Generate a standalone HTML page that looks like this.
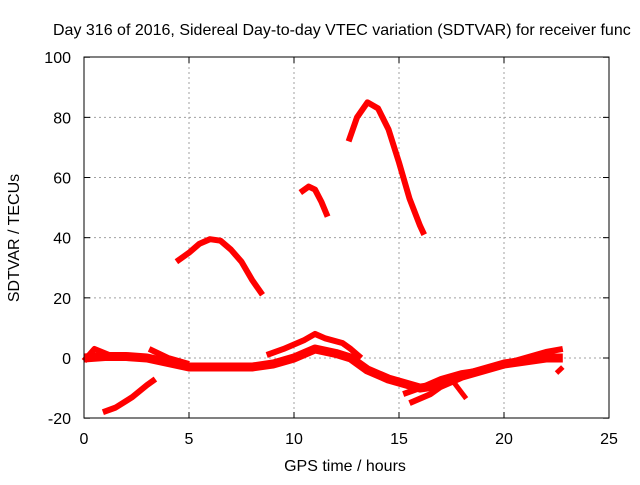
<!DOCTYPE html>
<html><head><meta charset="utf-8"><style>
body{margin:0;background:#fff}
svg text{font-family:"Liberation Sans",sans-serif;font-size:16px;fill:#000}
</style></head><body>
<svg width="640" height="480">
<text x="53" y="35">Day 316 of 2016, Sidereal Day-to-day VTEC variation (SDTVAR) for receiver func</text>
<g id="grid"></g><g id="ticks"></g><g id="series"></g>
<rect x="84" y="57" width="525" height="361" fill="none" stroke="#000" stroke-width="1"/>
<text x="345" y="471" text-anchor="middle">GPS time / hours</text>
<text transform="translate(19,238) rotate(-90)" text-anchor="middle">SDTVAR / TECUs</text>
</svg>
<script>
const xTicks=[0,5,10,15,20,25];
const yTicks=[-20,0,20,40,60,80,100];
const arc1H=[4.4,5,5.5,6,6.5,7,7.5,8,8.5];
const arc1V=[32,35,38,39.5,39,36,32,26,21];
const arc2H=[10.3,10.7,11,11.3,11.6];
const arc2V=[55,57,56,52,47];
const arc3H=[12.6,13,13.5,14,14.5,15,15.5,16,16.2];
const arc3V=[72,80,85,83,76,65,53,44,41];
const lowH=[0.9,1.5,2.3,3,3.4];
const lowV=[-18,-16.5,-13,-9,-7];
const mainH=[0,1,2,3,4,5,6,7,8,9,10,11,12,12.7,13.5,14.5,15,16,17,18,19,20,21,22,22.8];
const mainV=[0,0.5,0.5,0,-1.5,-3,-3,-3,-3,-2,0,3,1.5,0,-4,-7,-8,-10,-9,-6,-4,-2,-1,0,0];
const upperH=[8.7,9.5,10.5,11,11.5,12.3,12.7,13.2];
const upperV=[1,3,6,8,6.5,5,3,0];
const b2H=[3.1,4,5];
const b2V=[3,0,-2];
const b3H=[15.2,16,17,18,19];
const b3V=[-12,-10,-7,-5,-4];
const b4H=[15.5,16.5,17.5];
const b4V=[-15,-12,-7];
const b5H=[17.6,18.2];
const b5V=[-8,-13.5];
const b6H=[20,21,22,22.8];
const b6V=[-2,0,2,3];
const b7H=[0,0.5,1.2];
const b7V=[-1,3,1];
const b8H=[22.5,22.8];
const b8V=[-5,-3];
const X=h=>84+21*h, Y=v=>358-3.008*v;
const NS='http://www.w3.org/2000/svg';
const g=document.getElementById('grid'), t=document.getElementById('ticks'), s=document.getElementById('series');
function mk(tag,p,attrs){const e=document.createElementNS(NS,tag);for(const k in attrs)e.setAttribute(k,attrs[k]);p.appendChild(e);return e;}
xTicks.forEach(v=>{
  if(v>0&&v<25){const l=mk('line',g,{x1:X(v),x2:X(v),y1:57,y2:418,stroke:'#a0a0a0','stroke-dasharray':'2,3'});
  
  }
  mk('line',t,{x1:X(v),x2:X(v),y1:418,y2:412,stroke:'#000'});
  mk('line',t,{x1:X(v),x2:X(v),y1:57,y2:63,stroke:'#000'});
  const tx=mk('text',t,{x:X(v),y:444,'text-anchor':'middle'});tx.textContent=v;
  
  
});
yTicks.forEach(v=>{
  if(v>-20&&v<100){const l=mk('line',g,{x1:84,x2:609,y1:Y(v),y2:Y(v),stroke:'#a0a0a0','stroke-dasharray':'2,3'});
  
  }
  mk('line',t,{x1:84,x2:90,y1:Y(v),y2:Y(v),stroke:'#000'});
  mk('line',t,{x1:609,x2:603,y1:Y(v),y2:Y(v),stroke:'#000'});
  const tx=mk('text',t,{x:71,y:Y(v)+6,'text-anchor':'end'});tx.textContent=v;
  
  
});
const series=[[arc1H,arc1V,6],[arc2H,arc2V,6],[arc3H,arc3V,6],[lowH,lowV,6],[mainH,mainV,9],[upperH,upperV,6],[b2H,b2V,6],[b3H,b3V,6],[b4H,b4V,6],[b5H,b5V,5],[b6H,b6V,6],[b7H,b7V,6],[b8H,b8V,5]];
series.forEach(([h,v,w])=>{
  const p=mk('polyline',s,{points:h.map((x,i)=>X(x)+','+Y(v[i])).join(' '),fill:'none',stroke:'#ff0000','stroke-width':w,'stroke-linejoin':'round'});
  
  
});
</script>
</body></html>
